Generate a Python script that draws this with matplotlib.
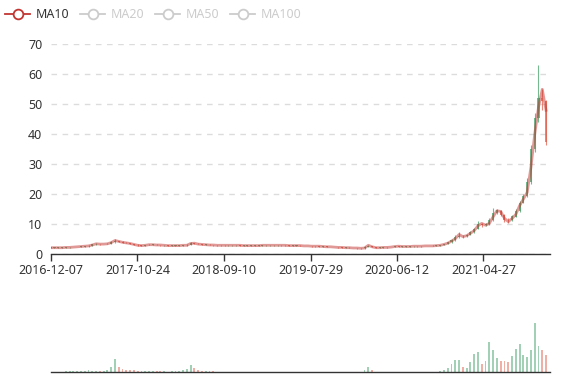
import matplotlib
matplotlib.use("Agg")
import matplotlib.pyplot as plt
import matplotlib.dates as mdates
from matplotlib.lines import Line2D
import numpy as np
import pandas as pd

plt.rcParams['font.family'] = ['Noto Sans', 'DejaVu Sans']

# ---- data (14-day buckets) ----
start_date = '2016-12-07'
n_bins = 132
bin_days = 14

tick_labels = ['2016-12-07', '2017-10-24', '2018-09-10',
               '2019-07-29', '2020-06-12', '2021-04-27']
y_ticks = [0, 10, 20, 30, 40, 50, 60, 70]
legend_names = ['MA10', 'MA20', 'MA50', 'MA100']

ma10 = [2.2, 2.2, 2.2, 2.2, 2.3, 2.3, 2.4, 2.5, 2.6, 2.7, 2.8, 3.1,
        3.5, 3.4, 3.4, 3.5, 3.9, 4.6, 4.3, 4.0, 3.8, 3.6, 3.3, 3.0,
        2.9, 3.0, 3.2, 3.2, 3.1, 3.1, 3.0, 2.9, 2.9, 2.9, 2.9, 3.0,
        3.0, 3.6, 3.7, 3.4, 3.3, 3.2, 3.1, 3.1, 3.0, 3.0, 3.0, 3.0,
        3.0, 3.0, 3.0, 2.9, 2.9, 2.9, 2.9, 2.9, 3.0, 3.0, 3.0, 3.0,
        3.0, 3.0, 3.0, 2.9, 2.9, 2.9, 2.9, 2.8, 2.8, 2.7, 2.7, 2.7,
        2.6, 2.5, 2.5, 2.4, 2.3, 2.3, 2.2, 2.2, 2.1, 2.1, 2.0, 2.1,
        3.0, 2.5, 2.2, 2.2, 2.3, 2.3, 2.4, 2.6, 2.7, 2.6, 2.6, 2.6,
        2.7, 2.7, 2.7, 2.8, 2.8, 2.8, 2.9, 3.0, 3.3, 3.7, 4.4, 5.2,
        6.6, 5.9, 6.2, 7.0, 7.9, 9.5, 10.3, 9.7, 10.3, 12.5, 14.5, 14.3,
        12.0, 10.9, 11.9, 13.3, 16.2, 18.4, 20.6, 29.0, 40.0, 49.0, 55.0, 48.0]

open_ = [2.2, 2.2, 2.2, 2.2, 2.2, 2.3, 2.4, 2.4, 2.5, 2.6, 2.7, 2.9,
         3.3, 3.5, 3.4, 3.4, 3.6, 4.1, 4.5, 4.2, 3.9, 3.7, 3.5, 3.2,
         3.0, 2.9, 3.1, 3.2, 3.2, 3.1, 3.0, 3.0, 2.9, 2.9, 2.9, 2.9,
         3.0, 3.2, 3.7, 3.6, 3.4, 3.2, 3.2, 3.1, 3.0, 3.0, 3.0, 3.0,
         3.0, 3.0, 3.0, 2.9, 2.9, 2.9, 2.9, 2.9, 2.9, 3.0, 3.0, 3.0,
         3.0, 3.0, 3.0, 3.0, 2.9, 2.9, 2.9, 2.8, 2.8, 2.8, 2.7, 2.7,
         2.6, 2.6, 2.5, 2.4, 2.4, 2.3, 2.2, 2.2, 2.1, 2.1, 2.0, 2.0,
         2.5, 2.8, 2.4, 2.2, 2.2, 2.3, 2.4, 2.5, 2.7, 2.6, 2.6, 2.6,
         2.7, 2.7, 2.7, 2.8, 2.8, 2.8, 2.9, 2.9, 3.1, 3.4, 4.0, 4.7,
         5.8, 6.2, 6.0, 6.5, 7.4, 8.6, 10.2, 9.8, 10.0, 11.4, 13.8, 14.6,
         13.2, 11.4, 11.3, 12.6, 14.5, 17.2, 19.4, 24.0, 35.0, 45.5, 52.0, 51.0]

close = [2.2, 2.2, 2.2, 2.2, 2.3, 2.4, 2.4, 2.5, 2.6, 2.7, 2.9, 3.3,
         3.5, 3.4, 3.4, 3.6, 4.1, 4.5, 4.2, 3.9, 3.7, 3.5, 3.2, 3.0,
         2.9, 3.1, 3.2, 3.2, 3.1, 3.0, 3.0, 2.9, 2.9, 2.9, 2.9, 3.0,
         3.2, 3.7, 3.6, 3.4, 3.2, 3.2, 3.1, 3.0, 3.0, 3.0, 3.0, 3.0,
         3.0, 3.0, 2.9, 2.9, 2.9, 2.9, 2.9, 2.9, 3.0, 3.0, 3.0, 3.0,
         3.0, 3.0, 3.0, 2.9, 2.9, 2.9, 2.8, 2.8, 2.8, 2.7, 2.7, 2.6,
         2.6, 2.5, 2.4, 2.4, 2.3, 2.2, 2.2, 2.1, 2.1, 2.0, 2.0, 2.5,
         2.8, 2.4, 2.2, 2.2, 2.3, 2.4, 2.5, 2.7, 2.6, 2.6, 2.6, 2.7,
         2.7, 2.7, 2.8, 2.8, 2.8, 2.9, 2.9, 3.1, 3.4, 4.0, 4.7, 5.8,
         6.2, 6.0, 6.5, 7.4, 8.6, 10.2, 9.8, 10.0, 11.4, 13.8, 14.6, 13.2,
         11.4, 11.3, 12.6, 14.5, 17.2, 19.4, 24.0, 35.0, 45.5, 52.0, 51.0, 37.5]

high = [2.3, 2.3, 2.3, 2.3, 2.4, 2.4, 2.5, 2.6, 2.7, 2.8, 3.0, 3.5,
        3.7, 3.6, 3.5, 3.7, 4.3, 5.0, 4.6, 4.3, 4.0, 3.8, 3.6, 3.3,
        3.1, 3.2, 3.3, 3.3, 3.3, 3.2, 3.1, 3.0, 3.0, 3.0, 3.0, 3.1,
        3.4, 4.0, 3.8, 3.7, 3.5, 3.3, 3.3, 3.2, 3.1, 3.1, 3.1, 3.1,
        3.1, 3.1, 3.1, 3.0, 3.0, 3.0, 3.0, 3.0, 3.1, 3.1, 3.1, 3.1,
        3.1, 3.1, 3.1, 3.1, 3.0, 3.0, 3.0, 2.9, 2.9, 2.9, 2.8, 2.8,
        2.7, 2.7, 2.6, 2.5, 2.5, 2.4, 2.3, 2.3, 2.2, 2.2, 2.1, 2.7,
        3.1, 2.9, 2.5, 2.3, 2.4, 2.5, 2.6, 2.8, 2.8, 2.7, 2.7, 2.8,
        2.8, 2.8, 2.9, 2.9, 2.9, 3.0, 3.0, 3.2, 3.6, 4.2, 5.0, 6.3,
        7.3, 6.5, 6.8, 7.7, 8.9, 11.0, 10.5, 10.6, 12.0, 15.3, 15.0, 14.8,
        13.4, 12.0, 13.0, 15.0, 17.8, 20.0, 25.5, 36.5, 47.0, 63.0, 55.0, 51.5]

low = [2.1, 2.1, 2.1, 2.1, 2.2, 2.2, 2.3, 2.4, 2.4, 2.5, 2.6, 2.8,
       3.2, 3.2, 3.3, 3.3, 3.5, 3.9, 4.0, 3.9, 3.7, 3.5, 3.1, 2.9,
       2.8, 2.8, 3.0, 3.1, 3.0, 2.9, 2.9, 2.8, 2.8, 2.8, 2.8, 2.8,
       2.9, 3.1, 3.4, 3.3, 3.1, 3.1, 3.0, 2.9, 2.9, 2.9, 2.9, 2.9,
       2.9, 2.9, 2.8, 2.8, 2.8, 2.8, 2.8, 2.8, 2.8, 2.9, 2.9, 2.9,
       2.9, 2.9, 2.9, 2.8, 2.8, 2.8, 2.7, 2.7, 2.7, 2.6, 2.6, 2.5,
       2.5, 2.4, 2.3, 2.3, 2.2, 2.1, 2.1, 2.0, 2.0, 1.9, 1.9, 1.9,
       2.4, 2.3, 2.1, 2.1, 2.2, 2.2, 2.3, 2.4, 2.5, 2.5, 2.5, 2.5,
       2.6, 2.6, 2.6, 2.7, 2.7, 2.7, 2.8, 2.8, 3.0, 3.3, 3.9, 4.6,
       5.5, 5.6, 5.8, 6.3, 7.2, 8.4, 9.1, 9.3, 9.8, 11.2, 13.5, 12.8,
       10.8, 10.5, 11.1, 12.4, 14.2, 17.0, 19.0, 23.5, 34.0, 44.0, 48.0, 36.5]

volume = [0.3, 0.3, 0.5, 0.8, 1.0, 1.0, 1.2, 1.5, 1.2, 1.5, 2.0, 1.8,
          1.5, 1.2, 1.5, 2.0, 5.0, 13.0, 5.5, 3.0, 2.5, 2.5, 2.0, 1.5,
          1.2, 1.2, 1.5, 1.2, 1.0, 1.0, 1.0, 0.8, 1.2, 1.5, 1.5, 2.5,
          3.0, 7.0, 4.0, 2.0, 1.5, 1.2, 1.2, 1.0, 0.8, 0.6, 0.5, 0.5,
          0.4, 0.4, 0.4, 0.4, 0.3, 0.3, 0.3, 0.3, 0.3, 0.3, 0.3, 0.3,
          0.3, 0.3, 0.3, 0.3, 0.3, 0.3, 0.3, 0.3, 0.4, 0.3, 0.3, 0.3,
          0.3, 0.3, 0.3, 0.3, 0.3, 0.3, 0.3, 0.3, 0.3, 0.3, 0.5, 2.5,
          5.0, 2.0, 0.5, 0.4, 0.3, 0.4, 0.5, 0.4, 0.3, 0.3, 0.3, 0.3,
          0.3, 0.3, 0.3, 0.3, 0.4, 0.5, 0.5, 1.0, 2.0, 4.0, 8.0, 12.0,
          12.0, 5.0, 4.5, 10.5, 18.0, 20.0, 8.0, 11.5, 30.5, 22.0, 14.0, 11.0,
          11.5, 10.5, 16.0, 23.0, 28.0, 17.0, 15.0, 22.0, 49.7, 26.0, 22.0, 17.0]

# ---- layout ----
W, H = 577, 380
UP = '#47a36a'
DOWN = '#e2604c'
MA_COLOR = '#c23531'
TEXT = '#333333'

dates = pd.date_range(start_date, periods=n_bins, freq=f'{bin_days}D')
xd = mdates.date2num(dates)
o = np.array(open_)
c = np.array(close)
up = c >= o

fig = plt.figure(figsize=(W / 100, H / 100), dpi=100)


def px_axes(left, top, right, bottom):
    return fig.add_axes([left / W, 1 - bottom / H, (right - left) / W, (bottom - top) / H])


ax = px_axes(50.7, 44.3, 550, 254.3)
vax = px_axes(50.7, 290, 550, 372.3)

days_per_px = 321 / 86.7
x0 = mdates.date2num(pd.Timestamp(start_date))
xlim = (x0, x0 + (550 - 50.7) * days_per_px)

# candlesticks
colors = np.where(up, UP, DOWN)
ax.vlines(xd, low, high, colors=colors, lw=0.8, alpha=0.75, zorder=2)
body_bottom = np.minimum(o, c)
body_h = np.maximum(np.abs(c - o), 0.08)
ax.bar(xd, body_h, bottom=body_bottom, width=bin_days * 0.55,
       color=colors, alpha=0.75, linewidth=0, zorder=2)

# MA10 line
ax.plot(xd, ma10, color=MA_COLOR, lw=2.0, alpha=0.5, zorder=3,
        solid_joinstyle='round')

ax.set_xlim(*xlim)
ax.set_ylim(0, 70)
ax.set_yticks(y_ticks)
ax.set_yticklabels([str(v) for v in y_ticks])
ax.set_xticks(mdates.date2num(pd.to_datetime(tick_labels)))
ax.set_xticklabels(tick_labels)
ax.tick_params(axis='x', direction='out', length=5, width=1, color=TEXT,
               labelsize=9, labelcolor=TEXT, pad=2)
ax.tick_params(axis='y', length=0, labelsize=9, labelcolor=TEXT, pad=6)
for s in ['top', 'right', 'left']:
    ax.spines[s].set_visible(False)
ax.spines['bottom'].set_color(TEXT)
ax.spines['bottom'].set_linewidth(1)
ax.yaxis.grid(True, linestyle=(0, (4, 4)), color='#dcdcdc', lw=1)
ax.set_axisbelow(True)

# volume
vax.bar(xd, volume, width=bin_days * 0.5, color=colors, alpha=0.5, linewidth=0)
vax.set_xlim(*xlim)
vax.set_ylim(0, 82.3)
vax.set_xticks([])
vax.set_yticks([])
for s in ['top', 'right', 'left']:
    vax.spines[s].set_visible(False)
vax.spines['bottom'].set_color(TEXT)
vax.spines['bottom'].set_linewidth(1)

# legend (first series active, rest greyed out)
legend_x = [5, 80, 155, 230]
for i, (name, lx) in enumerate(zip(legend_names, legend_x)):
    col = MA_COLOR if i == 0 else '#cccccc'
    tcol = TEXT if i == 0 else '#cccccc'
    yy = 1 - 14 / H
    fig.add_artist(Line2D([lx / W, (lx + 25) / W], [yy, yy], color=col, lw=1.3,
                          transform=fig.transFigure))
    fig.add_artist(Line2D([(lx + 12.5) / W], [yy], marker='o', markersize=7,
                          markerfacecolor='white', markeredgecolor=col,
                          markeredgewidth=1.3, transform=fig.transFigure))
    fig.text((lx + 31) / W, yy, name, color=tcol, fontsize=9, va='center', ha='left')

fig.savefig('out.png', dpi=100)
